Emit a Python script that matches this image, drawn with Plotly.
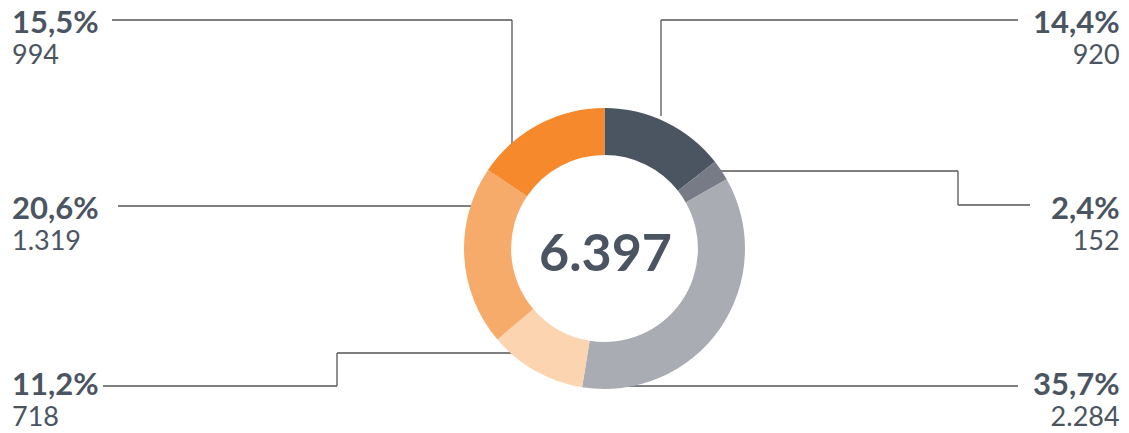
import plotly.graph_objects as go

W, H = 1129, 433

# Data
categories = ["A", "B", "C", "D", "E", "F"]
values = [920, 152, 2284, 718, 1319, 994]
pct_labels = ["14,4%", "2,4%", "35,7%", "11,2%", "20,6%", "15,5%"]
value_labels = ["920", "152", "2.284", "718", "1.319", "994"]
total_label = "6.397"
colors = ["#4a5561", "#777b86", "#a9acb3", "#fcd5b0", "#f7ab6b", "#f5892b"]

TEXT = "#4a5561"
LINE = "#555555"

cx, cy, r = 604.5, 248.5, 140.5


def px(x, y):
    return x / W, 1 - y / H


fig = go.Figure(go.Pie(
    labels=categories,
    values=values,
    hole=0.665,
    sort=False,
    direction="clockwise",
    rotation=0,
    marker=dict(colors=colors, line=dict(width=0)),
    textinfo="none",
    hoverinfo="label+value+percent",
    domain=dict(x=[(cx - r) / W, (cx + r) / W], y=[(H - cy - r) / H, (H - cy + r) / H]),
    showlegend=False,
))

# label layout: (x, y of block center, anchor)
label_pos = [
    (1122, 36, "right"),
    (1122, 222, "right"),
    (1122, 398, "right"),
    (10, 398, "left"),
    (10, 222, "left"),
    (10, 36, "left"),
]

annotations = []
for (x, y, anc), p, v in zip(label_pos, pct_labels, value_labels):
    ax, ay = px(x, y)
    txt = ('<span style="font-size:31px"><b>' + p + '</b></span><br>'
           '<span style="font-size:27px">' + v + '</span>')
    annotations.append(dict(x=ax, y=ay, xref="paper", yref="paper", text=txt,
                            showarrow=False, xanchor=anc, yanchor="middle", align=anc,
                            font=dict(family="Lato", size=24, color=TEXT)))

tx, ty = px(cx + 1, cy + 2)
annotations.append(dict(x=tx, y=ty, xref="paper", yref="paper", text="<b>" + total_label + "</b>",
                        showarrow=False, xanchor="center", yanchor="middle",
                        font=dict(family="Lato", size=52, color=TEXT)))

# leader lines (pixel polylines)
leaders = [
    [(1018, 20), (661, 20), (661, 116)],
    [(1030, 205), (958, 205), (958, 171), (718, 171)],
    [(1018, 386), (627, 386)],
    [(103, 386), (337, 386), (337, 353), (512, 353)],
    [(118, 206), (471, 206)],
    [(112, 20), (512, 20), (512, 144)],
]
shapes = []
for pts in leaders:
    for (x0, y0), (x1, y1) in zip(pts[:-1], pts[1:]):
        a0, b0 = px(x0, y0)
        a1, b1 = px(x1, y1)
        shapes.append(dict(type="line", xref="paper", yref="paper", x0=a0, y0=b0, x1=a1, y1=b1,
                           line=dict(color=LINE, width=1.3), layer="below"))

fig.update_layout(
    width=W, height=H,
    margin=dict(l=0, r=0, t=0, b=0),
    paper_bgcolor="white",
    plot_bgcolor="white",
    annotations=annotations,
    shapes=shapes,
)

fig.write_html(
    "out.html",
    config={"displayModeBar": False},
    post_script="document.body.style.margin='0';document.body.style.padding='0';document.body.style.overflow='hidden';",
)
